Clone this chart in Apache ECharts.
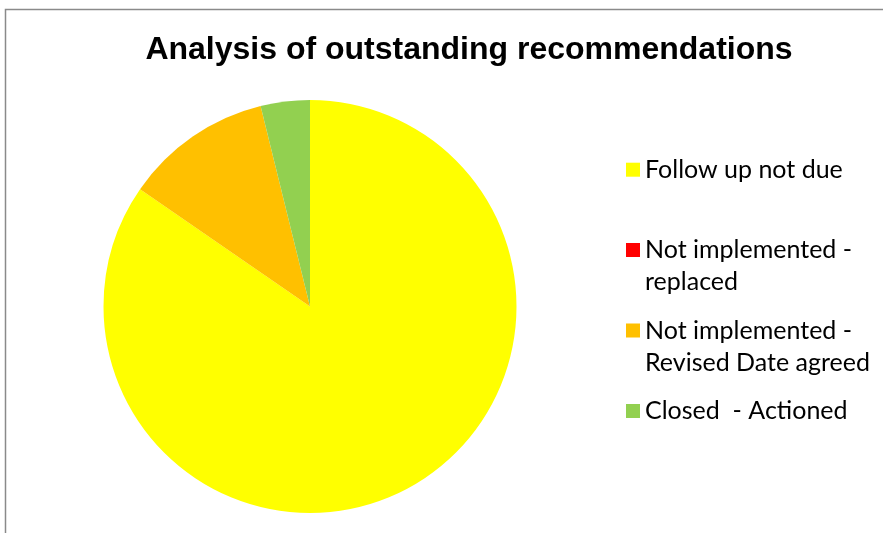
<!DOCTYPE html>
<html>
<head>
<meta charset="utf-8">
<title>Analysis of outstanding recommendations</title>
<script src="https://cdn.jsdelivr.net/npm/echarts@6/dist/echarts.min.js"></script>
<style>
  html, body { margin: 0; padding: 0; background: #ffffff; }
  #chart { width: 883px; height: 533px; }
</style>
</head>
<body>
<div id="chart"></div>
<script>
// Status categories and counts of outstanding recommendations
const categories = [
  'Follow up not due',
  'Not implemented - replaced',
  'Not implemented - Revised Date agreed',
  'Closed  - Actioned'
];
// Legend text for each category (long names wrap onto a second line)
const legendLabels = [
  'Follow up not due',
  'Not implemented -\nreplaced',
  'Not implemented -\nRevised Date agreed',
  'Closed  - Actioned'
];
const counts = [22, 0, 3, 1];
const colors = ['#FFFF00', '#FF0000', '#FFC000', '#92D050'];

const titleText = 'Analysis of outstanding recommendations';

const chart = echarts.init(document.getElementById('chart'), null, { renderer: 'canvas' });

const LINE_H = 32;
const legendFont = {
  fontFamily: 'Lato, "Open Sans", sans-serif',
  fontSize: 25,
  color: '#000000',
  lineHeight: LINE_H
};

// Square marker; for wrapped entries the marker path is extended with an
// invisible point below so the square lines up with the first text line.
const squareIcon = 'path://M0,0L14,0L14,14L0,14Z';
const tallSquareIcon = 'path://M0,0L14,0L14,14L0,14Z M0,46L0.01,46';

// One legend block per entry so each sits at its own row
const legendTops = [153.7, 234, 314.5, 395];
const legends = categories.map((name, i) => {
  const twoLine = legendLabels[i].indexOf('\n') >= 0;
  return {
    data: [name],
    orient: 'vertical',
    left: 626,
    top: legendTops[i],
    padding: 0,
    itemGap: 0,
    itemWidth: 14,
    itemHeight: twoLine ? 46 : 14,
    icon: twoLine ? tallSquareIcon : squareIcon,
    selectedMode: false,
    formatter: () => legendLabels[i],
    textStyle: legendFont
  };
});

const option = {
  backgroundColor: '#ffffff',
  animation: false,
  color: colors,
  title: {
    text: titleText,
    left: 464,
    top: 29,
    textAlign: 'center',
    textStyle: {
      fontFamily: '"Liberation Sans", Arial, sans-serif',
      fontWeight: 'bold',
      fontSize: 32,
      color: '#000000'
    }
  },
  legend: legends,
  graphic: [{
    type: 'rect',
    shape: { x: 5.5, y: 9.5, width: 1000, height: 1000 },
    style: { fill: 'none', stroke: '#8a8a8a', lineWidth: 1.5 },
    silent: true,
    z: 100
  }],
  series: [{
    type: 'pie',
    center: [310, 306.5],
    radius: [0, 206.5],
    startAngle: 90,
    clockwise: true,
    avoidLabelOverlap: false,
    label: { show: false },
    labelLine: { show: false },
    emphasis: { disabled: true },
    itemStyle: { borderWidth: 0 },
    data: categories.map((name, i) => ({
      name: name,
      value: counts[i],
      itemStyle: { color: colors[i] }
    }))
  }]
};

chart.setOption(option);
</script>
</body>
</html>
